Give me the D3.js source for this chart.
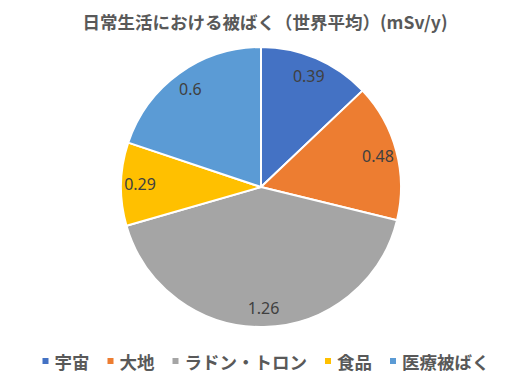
<!DOCTYPE html>
<html><head><meta charset="utf-8">
<script src="https://cdn.jsdelivr.net/npm/d3@7"></script>
<style>
html,body{margin:0;padding:0;background:#fff;}
svg{display:block;}
</style>
</head><body>
<svg id="chart" width="530" height="381"></svg>
<script>
const categories = ["宇宙", "大地", "ラドン・トロン", "食品", "医療被ばく"];
const values = [0.39, 0.48, 1.26, 0.29, 0.6];
const title = "日常生活における被ばく（世界平均）(mSv/y)";
const colors = ["#4472C4", "#ED7D31", "#A5A5A5", "#FFC000", "#5B9BD5"];

const svg = d3.select("#chart");
const W = 530, H = 381;
const cx = 261, cy = 187, R = 140;

svg.append("rect").attr("width", W).attr("height", H).attr("fill", "#fff");

svg.append("text")
  .attr("x", 265).attr("y", 29)
  .attr("text-anchor", "middle")
  .attr("font-family", "'Noto Sans CJK JP', sans-serif")
  .attr("font-weight", "bold")
  .attr("font-size", "17.5px")
  .attr("fill", "#595959")
  .text(title);

const data = categories.map((c, i) => ({ cat: c, value: values[i], color: colors[i] }));
const pie = d3.pie().sort(null).value(d => d.value);
const arcs = pie(data);
const arc = d3.arc().innerRadius(0).outerRadius(R);
const labelArc = d3.arc().innerRadius(121).outerRadius(121);

const g = svg.append("g").attr("transform", `translate(${cx},${cy})`);
g.selectAll("path").data(arcs).join("path")
  .attr("d", arc)
  .attr("fill", d => d.data.color)
  .attr("stroke", "#fff")
  .attr("stroke-width", 2)
  .attr("stroke-linejoin", "round");

g.selectAll("text.lbl").data(arcs).join("text")
  .attr("class", "lbl")
  .attr("transform", d => `translate(${labelArc.centroid(d)})`)
  .attr("text-anchor", "middle")
  .attr("dominant-baseline", "central")
  .attr("font-family", "'Noto Sans', sans-serif")
  .attr("font-size", "16px")
  .attr("fill", "#404040")
  .text(d => d.data.value);

// legend
const lg = svg.append("g");
const items = lg.selectAll("g").data(data).join("g");
items.append("rect").attr("width", 6).attr("height", 6).attr("y", -3).attr("fill", d => d.color);
items.append("text")
  .attr("x", 12)
  .attr("dominant-baseline", "central")
  .attr("font-family", "'Noto Sans CJK JP', sans-serif")
  .attr("font-weight", "bold")
  .attr("font-size", "17.5px")
  .attr("fill", "#595959")
  .text(d => d.cat);
let x = 0;
const gap = 18;
const widths = [];
items.each(function() {
  const w = d3.select(this).select("text").node().getComputedTextLength() + 12;
  widths.push(w);
});
const total = d3.sum(widths) + gap * (widths.length - 1);
let start = 266 - total / 2;
items.attr("transform", (d, i) => {
  const t = `translate(${start},361)`;
  start += widths[i] + gap;
  return t;
});
</script>
</body></html>
